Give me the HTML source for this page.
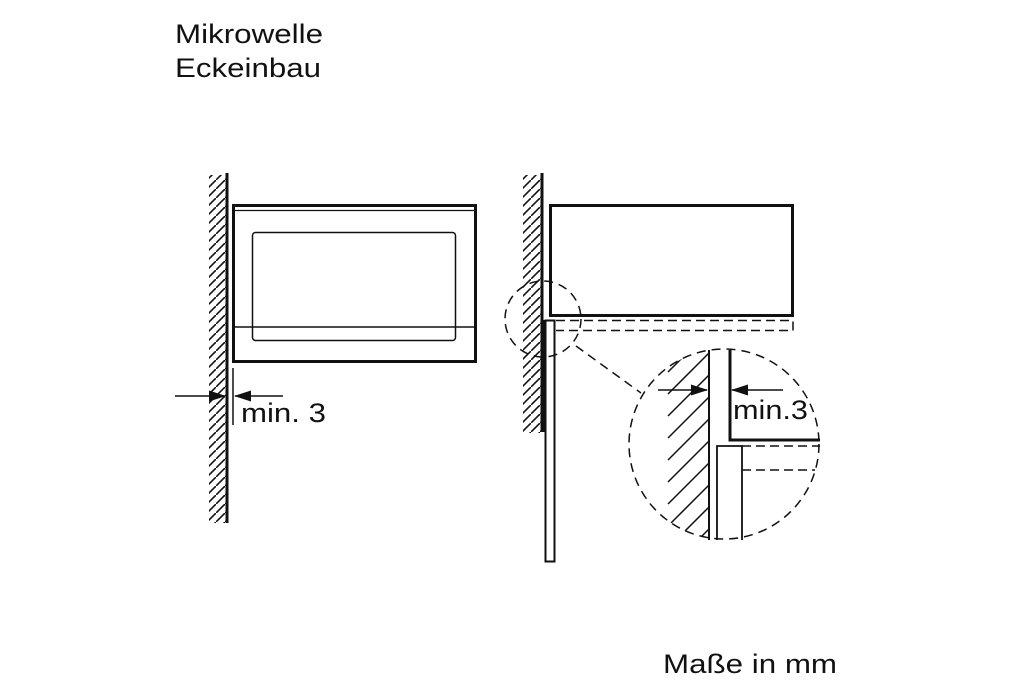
<!DOCTYPE html>
<html><head><meta charset="utf-8"><style>
html,body{margin:0;padding:0;background:#fff;}
svg{display:block;}
text{font-family:"Liberation Sans",sans-serif;fill:#111;}
</style></head><body>
<svg width="1024" height="696" viewBox="0 0 1024 696" xmlns="http://www.w3.org/2000/svg">
<defs>
<pattern id="h" patternUnits="userSpaceOnUse" width="9" height="9">
<path d="M-2,11 L11,-2" stroke="#111" stroke-width="1.6"/>
</pattern>
<clipPath id="cc"><circle cx="724" cy="444" r="95"/></clipPath>
<marker id="ar" markerWidth="17" markerHeight="11" refX="16" refY="5.5" orient="auto" markerUnits="userSpaceOnUse">
<path d="M0,0 L17,5.5 L0,11 z" fill="#111"/>
</marker>
</defs>

<text x="175" y="43" font-size="27" textLength="148" lengthAdjust="spacingAndGlyphs">Mikrowelle</text>
<text x="175" y="77" font-size="27" textLength="146" lengthAdjust="spacingAndGlyphs">Eckeinbau</text>
<text x="663" y="673" font-size="27" textLength="174" lengthAdjust="spacingAndGlyphs">Maße in mm</text>

<!-- Left view -->
<rect x="209" y="175" width="17" height="348" fill="url(#h)"/>
<line x1="227" y1="173" x2="227" y2="523" stroke="#111" stroke-width="3"/>
<rect x="233.5" y="205.5" width="242" height="156" fill="none" stroke="#111" stroke-width="3"/>
<line x1="235" y1="210.5" x2="474" y2="210.5" stroke="#111" stroke-width="1.2"/>
<rect x="252.5" y="232.5" width="203" height="108" rx="3" fill="none" stroke="#111" stroke-width="1.5"/>
<line x1="235" y1="327" x2="474" y2="327" stroke="#111" stroke-width="1.5"/>
<line x1="233" y1="368" x2="233" y2="425" stroke="#111" stroke-width="1.5"/>
<line x1="175" y1="396" x2="225" y2="396" stroke="#111" stroke-width="1.5" marker-end="url(#ar)"/>
<line x1="283" y1="396" x2="235" y2="396" stroke="#111" stroke-width="1.5" marker-end="url(#ar)"/>
<text x="241" y="422" font-size="27" textLength="85" lengthAdjust="spacingAndGlyphs">min. 3</text>

<!-- Right view -->
<rect x="523" y="175" width="18" height="258" fill="url(#h)"/>
<line x1="542" y1="173" x2="542" y2="432" stroke="#111" stroke-width="3"/>
<rect x="550.5" y="205.5" width="242" height="110" fill="none" stroke="#111" stroke-width="3"/>
<rect x="545.5" y="320.5" width="9" height="241" fill="#fff" stroke="#111" stroke-width="2"/>
<rect x="542" y="320" width="4" height="112" fill="#111"/>
<path d="M556,320.5 H793 V330.5 H556" fill="none" stroke="#111" stroke-width="1.5" stroke-dasharray="9,5"/>
<circle cx="543" cy="319" r="38" fill="none" stroke="#111" stroke-width="1.5" stroke-dasharray="9,6"/>
<line x1="576" y1="346" x2="641" y2="393" stroke="#111" stroke-width="1.5" stroke-dasharray="9,6"/>

<!-- detail circle -->
<g clip-path="url(#cc)">
<g stroke="#111" stroke-width="1.5">
<line x1="668" y1="372" x2="709" y2="331"/>
<line x1="668" y1="394" x2="709" y2="353"/>
<line x1="668" y1="416" x2="709" y2="375"/>
<line x1="668" y1="438" x2="709" y2="397"/>
<line x1="668" y1="460" x2="709" y2="419"/>
<line x1="668" y1="482" x2="709" y2="441"/>
<line x1="668" y1="504" x2="709" y2="463"/>
<line x1="668" y1="526" x2="709" y2="485"/>
<line x1="668" y1="548" x2="709" y2="507"/>
<line x1="668" y1="570" x2="709" y2="529"/>
</g>
</g>
<circle cx="724" cy="444" r="95" fill="none" stroke="#111" stroke-width="1.5" stroke-dasharray="9,6"/>
<line x1="709" y1="350" x2="709" y2="540" stroke="#111" stroke-width="2"/>
<path d="M730,350 V440 H820" fill="none" stroke="#111" stroke-width="3"/>
<path d="M717,540 V446 H742 V540" fill="none" stroke="#111" stroke-width="1.8"/>
<line x1="742" y1="446" x2="820" y2="446" stroke="#111" stroke-width="1.5" stroke-dasharray="9,5"/>
<line x1="742" y1="470" x2="815" y2="470" stroke="#111" stroke-width="1.5" stroke-dasharray="9,5"/>
<line x1="658" y1="390" x2="707" y2="390" stroke="#111" stroke-width="1.5" marker-end="url(#ar)"/>
<line x1="783" y1="390" x2="732" y2="390" stroke="#111" stroke-width="1.5" marker-end="url(#ar)"/>
<text x="733" y="419" font-size="27" textLength="75" lengthAdjust="spacingAndGlyphs">min.3</text>
</svg>
</body></html>
